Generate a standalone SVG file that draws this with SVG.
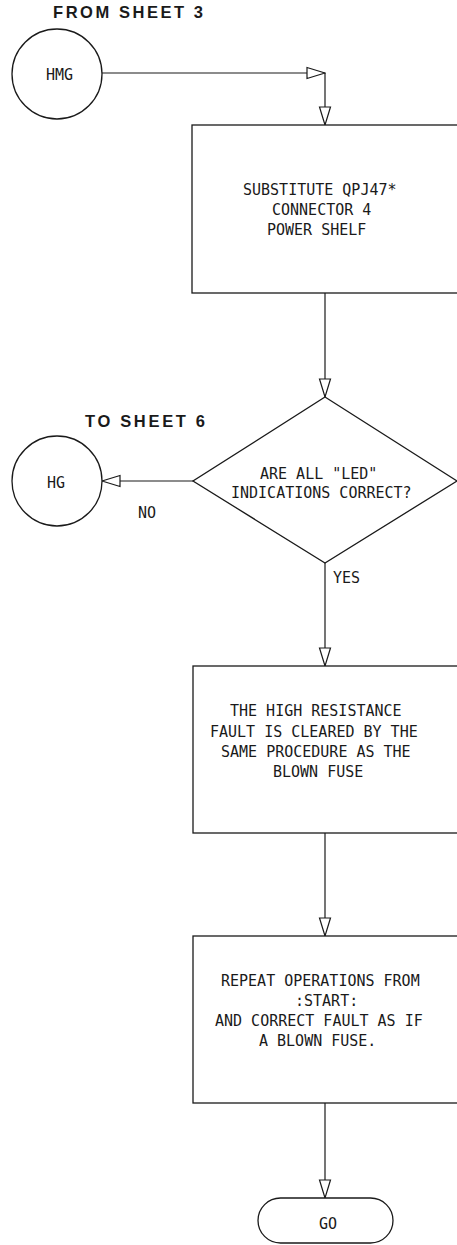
<svg xmlns="http://www.w3.org/2000/svg" width="457" height="1245" viewBox="0 0 457 1245">
  <defs>
    <style>
      .shape { fill: #ffffff; stroke: #1a1a1a; stroke-width: 1.3; }
      .wire { fill: none; stroke: #1a1a1a; stroke-width: 1.2; }
      .lbl { font-family: "DejaVu Sans Mono", "Liberation Mono", monospace; font-size: 15px; fill: #1a1a1a; }
      .sheet { font-family: "Liberation Sans", Arial, sans-serif; font-size: 16.5px; font-weight: bold; fill: #1a1a1a; }
    </style>
    <!-- open triangular arrowhead, tip on the line end -->
    <marker id="arrow" viewBox="0 0 20 14" refX="19" refY="7" markerWidth="20" markerHeight="14" markerUnits="userSpaceOnUse" orient="auto">
      <path d="M1,1.5 L19,7 L1,12.5 Z" fill="#ffffff" stroke="#1a1a1a" stroke-width="1.2"/>
    </marker>
  </defs>

  <rect width="457" height="1245" fill="#ffffff"/>

  <!-- off-page reference captions -->
  <text class="sheet" x="53" y="18" textLength="150" lengthAdjust="spacing">FROM SHEET 3</text>
  <text class="sheet" x="85" y="427" textLength="120" lengthAdjust="spacing">TO SHEET 6</text>

  <!-- connectors -->
  <g id="connectors">
    <path class="wire" d="M102,73 L325,73" marker-end="url(#arrow)"/>
    <path class="wire" d="M325,73 L325,125" marker-end="url(#arrow)"/>
    <path class="wire" d="M325,293 L325,397" marker-end="url(#arrow)"/>
    <path class="wire" d="M193,481 L102,481" marker-end="url(#arrow)"/>
    <path class="wire" d="M325,563 L325,666" marker-end="url(#arrow)"/>
    <path class="wire" d="M325,833 L325,936" marker-end="url(#arrow)"/>
    <path class="wire" d="M325,1103 L325,1198" marker-end="url(#arrow)"/>
    <text class="lbl" x="138" y="518">NO</text>
    <text class="lbl" x="333" y="583">YES</text>
  </g>

  <!-- entry connector -->
  <g id="node-hmg">
    <circle class="shape" cx="57" cy="74" r="45"/>
    <text class="lbl" x="46" y="80">HMG</text>
  </g>

  <!-- substitution step -->
  <g id="node-substitute">
    <rect class="shape" x="192" y="125" width="267" height="168"/>
    <text class="lbl" x="243" y="195">SUBSTITUTE QPJ47*</text>
    <text class="lbl" x="272" y="215">CONNECTOR 4</text>
    <text class="lbl" x="267" y="235">POWER SHELF</text>
  </g>

  <!-- decision -->
  <g id="node-led-check">
    <polygon class="shape" points="325,397 457,481 325,563 193,481"/>
    <text class="lbl" x="260" y="479">ARE ALL "LED"</text>
    <text class="lbl" x="231" y="498">INDICATIONS CORRECT?</text>
  </g>

  <!-- exit connector -->
  <g id="node-hg">
    <circle class="shape" cx="57" cy="481" r="45"/>
    <text class="lbl" x="47" y="488">HG</text>
  </g>

  <!-- fault clearing note -->
  <g id="node-high-resistance">
    <rect class="shape" x="193" y="666" width="266" height="167"/>
    <text class="lbl" x="230" y="716">THE HIGH RESISTANCE</text>
    <text class="lbl" x="210" y="736.5">FAULT IS CLEARED BY THE</text>
    <text class="lbl" x="221" y="757">SAME PROCEDURE AS THE</text>
    <text class="lbl" x="273" y="777">BLOWN FUSE</text>
  </g>

  <!-- repeat instruction -->
  <g id="node-repeat">
    <rect class="shape" x="193" y="936" width="266" height="167"/>
    <text class="lbl" x="221" y="986">REPEAT OPERATIONS FROM</text>
    <text class="lbl" x="295" y="1006">:START:</text>
    <text class="lbl" x="215" y="1026">AND CORRECT FAULT AS IF</text>
    <text class="lbl" x="259" y="1046">A BLOWN FUSE.</text>
  </g>

  <!-- terminator -->
  <g id="node-go">
    <rect class="shape" x="258" y="1198" width="135" height="45" rx="22.5" ry="22.5"/>
    <text class="lbl" x="319" y="1229">GO</text>
  </g>
</svg>
